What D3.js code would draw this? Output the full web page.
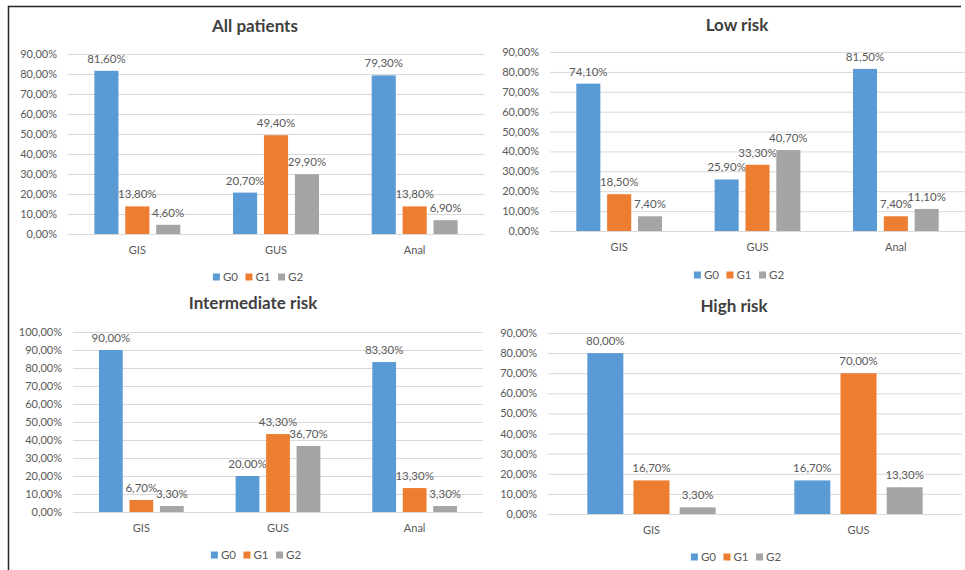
<!DOCTYPE html>
<html>
<head>
<meta charset="utf-8">
<script src="https://cdn.jsdelivr.net/npm/d3@7"></script>
<style>
  html, body { margin: 0; padding: 0; background: #fff; }
  svg { display: block; font-family: Lato, "Open Sans", sans-serif; }
</style>
</head>
<body>
<svg id="chart" width="965" height="570"></svg>
<script>
// Series and categories
const series = ["G0", "G1", "G2"];
const colors = ["#5B9BD5", "#ED7D31", "#A5A5A5"];
const titles = ["All patients", "Low risk", "Intermediate risk", "High risk"];
const categoriesThree = ["GIS", "GUS", "Anal"];
const categoriesTwo = ["GIS", "GUS"];

// Values per panel, one array per series (G0, G1, G2)
const allPatientsG0 = [0.816, 0.207, 0.793];
const allPatientsG1 = [0.138, 0.494, 0.138];
const allPatientsG2 = [0.046, 0.299, 0.069];

const lowRiskG0 = [0.741, 0.259, 0.815];
const lowRiskG1 = [0.185, 0.333, 0.074];
const lowRiskG2 = [0.074, 0.407, 0.111];

const intermediateG0 = [0.900, 0.200, 0.833];
const intermediateG1 = [0.067, 0.433, 0.133];
const intermediateG2 = [0.033, 0.367, 0.033];

const highRiskG0 = [0.800, 0.167];
const highRiskG1 = [0.167, 0.700];
const highRiskG2 = [0.033, 0.133];

// Value axis maximum per panel (ticks every 10%)
const axisMax = [0.9, 0.9, 1.0, 0.9];

// Panel placement on the page
const layout = [
  { left: 68,  right: 484, top: 54,  bottom: 234, titleX: 255, titleY: 26,  catY: 250, legendX: 258, legendY: 277 },
  { left: 550, right: 965, top: 52,  bottom: 231, titleX: 737, titleY: 25,  catY: 247, legendX: 739, legendY: 275 },
  { left: 73,  right: 483, top: 332, bottom: 512, titleX: 253, titleY: 303, catY: 528, legendX: 256, legendY: 555 },
  { left: 548, right: 962, top: 333, bottom: 514, titleX: 734, titleY: 306, catY: 530, legendX: 736, legendY: 557 }
];

const panels = [
  { title: titles[0], categories: categoriesThree, values: [allPatientsG0, allPatientsG1, allPatientsG2], max: axisMax[0] },
  { title: titles[1], categories: categoriesThree, values: [lowRiskG0, lowRiskG1, lowRiskG2], max: axisMax[1] },
  { title: titles[2], categories: categoriesThree, values: [intermediateG0, intermediateG1, intermediateG2], max: axisMax[2] },
  { title: titles[3], categories: categoriesTwo, values: [highRiskG0, highRiskG1, highRiskG2], max: axisMax[3] }
];

const locale = d3.formatLocale({ decimal: ",", thousands: ".", grouping: [3], currency: ["", "€"], percent: "%" });
const pct = locale.format(".2%");

const svg = d3.select("#chart");

// Frame lines along the top and left edges
svg.append("path")
  .attr("d", "M8.5,570V6.5H961")
  .attr("fill", "none")
  .attr("stroke", "#262626")
  .attr("stroke-width", 1.5);

panels.forEach((p, i) => {
  const L = layout[i];
  const g = svg.append("g");

  const y = d3.scaleLinear().domain([0, p.max]).range([L.bottom, L.top]);
  const x0 = d3.scaleBand().domain(p.categories).range([L.left, L.right]);
  const band = x0.bandwidth();

  // Gridlines + tick labels via a left axis
  const ticks = d3.range(0, Math.round(p.max * 10) + 1).map(k => k / 10);
  const axis = d3.axisLeft(y).tickValues(ticks).tickFormat(pct).tickSize(-(L.right - L.left)).tickPadding(11);
  const ag = g.append("g").attr("transform", `translate(${L.left},0)`).call(axis);
  ag.select(".domain").remove();
  ag.selectAll(".tick line").attr("stroke", "#D9D9D9").attr("stroke-width", 1);
  ag.selectAll(".tick text")
    .attr("fill", "#595959")
    .style("font-size", "11px")
    .style("font-family", "Lato, 'Open Sans', sans-serif");

  // Bars
  p.categories.forEach((cat, ci) => {
    const c = x0(cat) + band / 2;
    const x1 = d3.scaleBand().domain(series)
      .range([c - 0.31 * band, c + 0.31 * band])
      .paddingInner(0.22).paddingOuter(0);
    series.forEach((s, si) => {
      const v = p.values[si][ci];
      g.append("rect")
        .attr("x", x1(s))
        .attr("y", y(v))
        .attr("width", x1.bandwidth())
        .attr("height", y(0) - y(v))
        .attr("fill", colors[si]);
      g.append("text")
        .attr("x", x1(s) + x1.bandwidth() / 2)
        .attr("y", y(v) - 8)
        .attr("text-anchor", "middle")
        .attr("fill", "#595959")
        .style("font-size", "11.5px")
        .text(pct(v));
    });
    // Category label
    g.append("text")
      .attr("x", c)
      .attr("y", L.catY)
      .attr("dy", "0.35em")
      .attr("text-anchor", "middle")
      .attr("fill", "#595959")
      .style("font-size", "11px")
      .text(cat);
  });

  // Title
  g.append("text")
    .attr("x", L.titleX)
    .attr("y", L.titleY)
    .attr("dy", "0.35em")
    .attr("text-anchor", "middle")
    .attr("fill", "#404040")
    .style("font-size", "17px")
    .style("font-weight", "bold")
    .text(p.title);

  // Legend
  const lg = g.append("g");
  let cx = 0;
  series.forEach((s, si) => {
    const item = lg.append("g").attr("transform", `translate(${cx},0)`);
    item.append("rect").attr("x", 0).attr("y", -3.5).attr("width", 7).attr("height", 7).attr("fill", colors[si]);
    const t = item.append("text")
      .attr("x", 10).attr("dy", "0.35em")
      .attr("fill", "#595959")
      .style("font-size", "11.5px")
      .text(s);
    cx += 10 + t.node().getComputedTextLength() + 7.5;
  });
  const total = cx - 7.5;
  lg.attr("transform", `translate(${L.legendX - total / 2},${L.legendY})`);
});
</script>
</body>
</html>
